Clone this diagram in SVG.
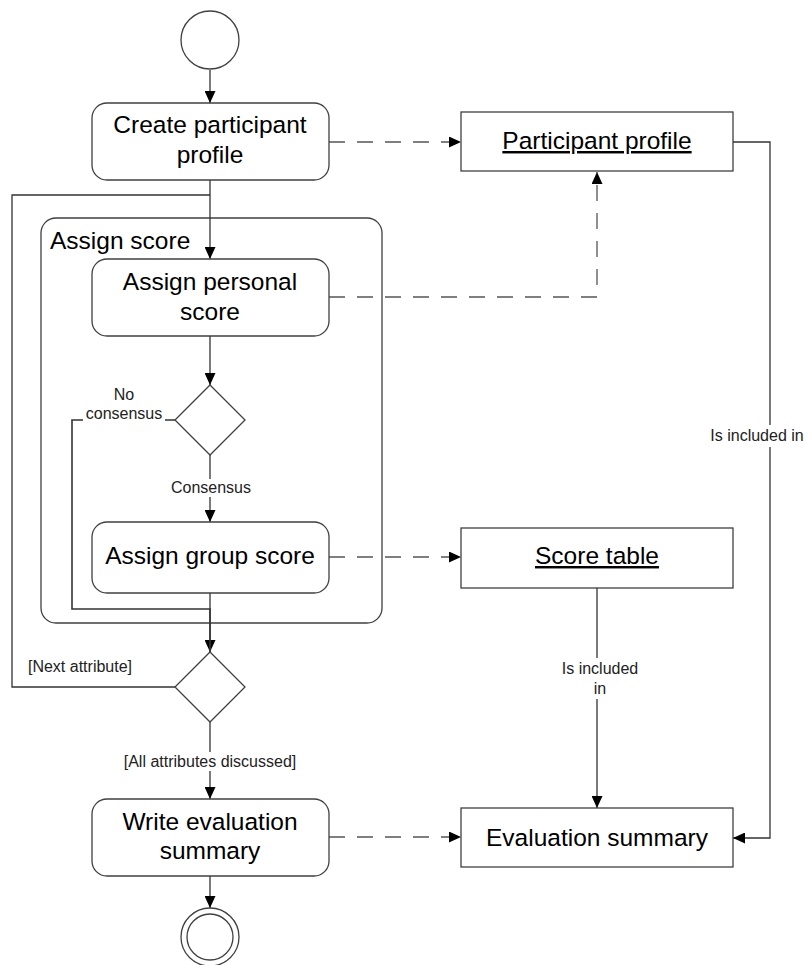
<svg xmlns="http://www.w3.org/2000/svg" width="807" height="965" viewBox="0 0 807 965">
<style>
.bg{fill:#ffffff}
.act{fill:#ffffff;stroke:#404040;stroke-width:1.3}
.obj{fill:#ffffff;stroke:#404040;stroke-width:1.3}
.ln{fill:none;stroke:#333333;stroke-width:1.3}
.dash{fill:none;stroke:#555555;stroke-width:1.3;stroke-dasharray:16 12}
.t{font-family:"Liberation Sans",Arial,sans-serif;font-size:24.5px;fill:#000000;text-anchor:middle}
.s{font-family:"Liberation Sans",Arial,sans-serif;font-size:16px;fill:#222222;text-anchor:middle}
.lblbg{fill:#ffffff}
</style>
<defs>
<marker id="arr" markerUnits="userSpaceOnUse" markerWidth="12" markerHeight="11" refX="12" refY="5.5" orient="auto">
<path d="M0,0 L12,5.5 L0,11 z" fill="#000000"/>
</marker>
</defs>
<rect class="bg" x="0" y="0" width="807" height="965"/>

<g id="assign-score">
<rect class="act" x="41" y="218" width="341" height="405" rx="15"/>
<text class="t" x="50" y="249" style="text-anchor:start">Assign score</text>
</g>

<g id="connectors">
<line class="ln" x1="210" y1="70" x2="210" y2="103" marker-end="url(#arr)"/>
<line class="ln" x1="210" y1="180" x2="210" y2="259" marker-end="url(#arr)"/>
<line class="ln" x1="210" y1="336" x2="210" y2="385" marker-end="url(#arr)"/>
<line class="ln" x1="210" y1="455" x2="210" y2="522" marker-end="url(#arr)"/>
<line class="ln" x1="210" y1="593" x2="210" y2="652" marker-end="url(#arr)"/>
<polyline class="ln" points="175,420 72,420 72,609 210,609 210,652" style="stroke-width:1.6"/>
<polyline class="ln" points="175,687 12,687 12,195 210,195"/>
<line class="ln" x1="210" y1="722" x2="210" y2="799" marker-end="url(#arr)"/>
<line class="ln" x1="210" y1="876" x2="210" y2="908" marker-end="url(#arr)"/>
<line class="dash" x1="329" y1="142" x2="461" y2="142" marker-end="url(#arr)"/>
<polyline class="dash" points="329,297 597,297 597,172" marker-end="url(#arr)"/>
<line class="dash" x1="329" y1="557" x2="461" y2="557" marker-end="url(#arr)"/>
<line class="dash" x1="329" y1="837" x2="461" y2="837" marker-end="url(#arr)"/>
<polyline class="ln" points="733,142 770,142 770,838 733,838" marker-end="url(#arr)"/>
<line class="ln" x1="597" y1="588" x2="597" y2="808" marker-end="url(#arr)"/>
<rect class="lblbg" x="168" y="479" width="86" height="18"/>
<text class="s" x="211" y="493">Consensus</text>
<text class="s" x="124" y="400">No</text>
<rect class="lblbg" x="83" y="405" width="82" height="18"/>
<text class="s" x="124" y="419">consensus</text>
<text class="s" x="80" y="672">[Next attribute]</text>
<rect class="lblbg" x="119" y="752" width="182" height="19"/>
<text class="s" x="210" y="767">[All attributes discussed]</text>
<rect class="lblbg" x="707" y="425" width="99" height="22"/>
<text class="s" x="757" y="441">Is included in</text>
<rect class="lblbg" x="559" y="658" width="82" height="41"/>
<text class="s" x="600" y="674">Is included</text>
<text class="s" x="600" y="694">in</text>
</g>

<g id="start">
<circle class="act" cx="210" cy="40" r="29"/>
</g>

<g id="create-profile">
<rect class="act" x="92" y="103" width="237" height="77" rx="15"/>
<text class="t" x="210" y="133">Create participant</text>
<text class="t" x="210" y="163">profile</text>
</g>

<g id="assign-personal">
<rect class="act" x="92" y="259" width="237" height="77" rx="15"/>
<text class="t" x="210" y="290">Assign personal</text>
<text class="t" x="210" y="320">score</text>
</g>

<g id="decision-consensus">
<polygon class="act" points="210,385 245,420 210,455 175,420"/>
</g>

<g id="assign-group">
<rect class="act" x="92" y="522" width="237" height="71" rx="15"/>
<text class="t" x="210" y="564">Assign group score</text>
</g>

<g id="decision-next">
<polygon class="act" points="210,652 245,687 210,722 175,687"/>
</g>

<g id="write-summary">
<rect class="act" x="92" y="799" width="237" height="77" rx="15"/>
<text class="t" x="210" y="830">Write evaluation</text>
<text class="t" x="210" y="859">summary</text>
</g>

<g id="end">
<circle class="act" cx="210" cy="937" r="29"/>
<circle class="act" cx="210" cy="937" r="23"/>
</g>

<g id="participant-profile">
<rect class="obj" x="461" y="112" width="272" height="59"/>
<text class="t" x="597" y="149" text-decoration="underline">Participant profile</text>
</g>

<g id="score-table">
<rect class="obj" x="461" y="528" width="272" height="60"/>
<text class="t" x="597" y="564" text-decoration="underline">Score table</text>
</g>

<g id="evaluation-summary">
<rect class="obj" x="461" y="808" width="272" height="59"/>
<text class="t" x="597" y="846">Evaluation summary</text>
</g>
</svg>
